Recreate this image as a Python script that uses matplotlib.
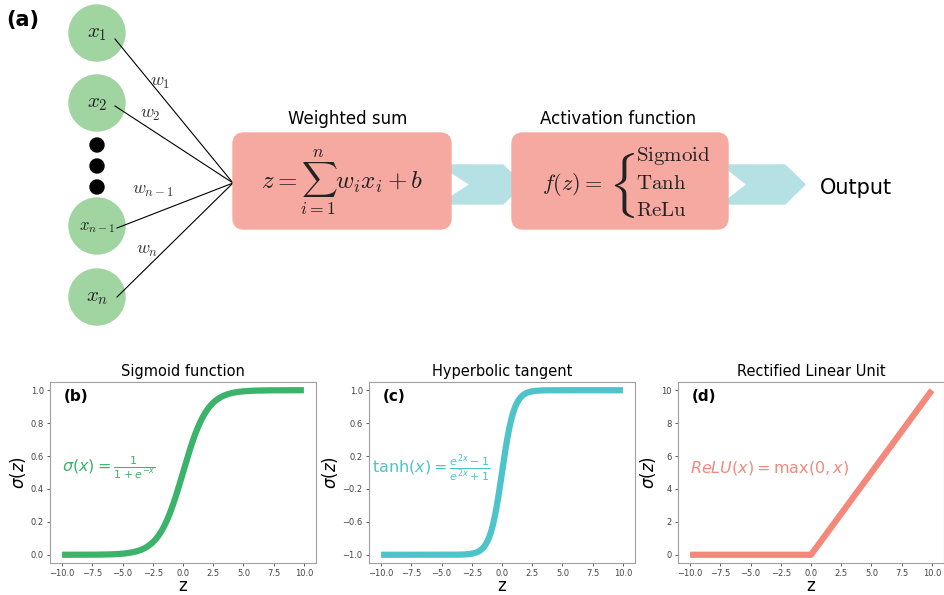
import numpy as np
import matplotlib
matplotlib.use("Agg")
import matplotlib.pyplot as plt
from matplotlib.patches import Circle, FancyBboxPatch, Polygon

# input neurons of the perceptron sketch
node_labels = ["$x_1$", "$x_2$", "$x_{n-1}$", "$x_n$"]
weight_labels = ["$w_1$", "$w_2$", "$w_{n-1}$", "$w_n$"]
activation_names = ["Sigmoid", "Tanh", "ReLu"]

# activation curves, as written on each panel
z = np.linspace(-10, 10, 401)
sigmoid = 1 / (1 + np.exp(-z))
tanh = (np.exp(2 * z) - 1) / (np.exp(2 * z) + 1)
relu = np.maximum(0, z)

panel_titles = ["Sigmoid function", "Hyperbolic tangent", "Rectified Linear Unit"]
panel_tags = ["(b)", "(c)", "(d)"]
panel_formulas = [r"$\sigma(x) = \frac{1}{1+e^{-x}}$",
                  r"$\tanh(x) = \frac{e^{2x}-1}{e^{2x}+1}$",
                  r"$ReLU(x) = \max(0, x)$"]
panel_yticks = [[0.0, 0.2, 0.4, 0.6, 0.8, 1.0],
                [-1.0, -0.6, -0.2, 0.2, 0.6, 1.0],
                [0, 2, 4, 6, 8, 10]]
x_ticks = [-10.0, -7.5, -5.0, -2.5, 0.0, 2.5, 5.0, 7.5, 10.0]
curves = [sigmoid, tanh, relu]
colors = ["#3cb36b", "#4cc4c9", "#f4887b"]

fig = plt.figure(figsize=(9.45, 5.95), dpi=100)

# ---- top diagram, drawn in pixel-like coordinates ----
diag = fig.add_axes([0, 0, 1, 1])
diag.set_xlim(0, 945)
diag.set_ylim(595, 0)
diag.axis("off")

node_green = "#a0d4a1"
box_red = "#f5a9a0"
arrow_blue = "#b6e1e4"

node_y = [33, 103, 226, 297]
hub = (233, 183)
line_start = [(115, 39), (115, 106), (117, 228), (117, 297)]
for (sx, sy) in line_start:
    diag.plot([sx, hub[0]], [sy, hub[1]], color="black", lw=0.8, zorder=2)

for y, lab in zip(node_y, node_labels):
    diag.add_patch(Circle((97, y), 28, color=node_green, zorder=1))
    fs = 12 if "n-1" in lab else 15
    diag.text(97, y, lab, ha="center", va="center", fontsize=fs,
              math_fontfamily="cm", color="#222222", zorder=3)

for y in [145, 166, 187]:
    diag.add_patch(Circle((97, y), 7, color="black", zorder=3))

w_pos = [(160, 82), (150, 114), (153, 190), (147, 250)]
for (wx, wy), lab in zip(w_pos, weight_labels):
    diag.text(wx, wy, lab, ha="center", va="center", fontsize=13,
              math_fontfamily="cm", color="#333333")

diag.text(6, 20, "(a)", fontsize=15, fontweight="bold", va="center", ha="left")


def chevron(x0, x_top, x_tip, top, bot, notch):
    mid = (top + bot) / 2
    pts = [(x0, top), (x_top, top), (x_tip, mid), (x_top, bot), (x0, bot), (x0 + notch, mid)]
    diag.add_patch(Polygon(pts, closed=True, color=arrow_blue, zorder=1))


chevron(440, 503, 523, 165, 204, 30)
chevron(722, 785, 805, 165, 204, 25)

for x0, x1 in [(233, 451), (512, 728)]:
    diag.add_patch(FancyBboxPatch((x0, 133), x1 - x0, 96,
                                  boxstyle="round,pad=0,rounding_size=11",
                                  color=box_red, zorder=2))

diag.text(348, 119, "Weighted sum", ha="center", va="center", fontsize=12)
diag.text(618, 119, "Activation function", ha="center", va="center", fontsize=12)

diag.text(342, 183, r"$z = \sum_{i=1}^{n} w_i x_i + b$", ha="center", va="center",
          fontsize=18, math_fontfamily="cm", color="#222222", zorder=3)
diag.text(542, 184, r"$f(z) =$", ha="left", va="center", fontsize=16,
          math_fontfamily="cm", color="#222222", zorder=3)
diag.text(621, 185, r"$\{$", ha="center", va="center", fontsize=38,
          math_fontfamily="cm", color="#222222", zorder=3)
for yy, name in zip([156, 183, 210], activation_names):
    diag.text(636, yy, r"$\mathrm{" + name + "}$", ha="left", va="center", fontsize=15,
              math_fontfamily="cm", color="#222222", zorder=3)

diag.text(820, 188, "Output", ha="left", va="center", fontsize=15)

# ---- bottom activation panels ----
lefts = [50, 369, 678]
for i in range(3):
    ax = fig.add_axes([lefts[i] / 945, 1 - 563 / 595, 266 / 945, 181 / 595])
    ax.plot(z, curves[i], color=colors[i], lw=4.5, solid_capstyle="butt")
    ax.set_xticks(x_ticks)
    ax.set_yticks(panel_yticks[i])
    ax.tick_params(labelsize=6, length=2.5, width=0.6, colors="#444444", pad=2)
    for sp in ax.spines.values():
        sp.set_color("#a0a0a0")
        sp.set_linewidth(0.8)
    ax.set_title(panel_titles[i], fontsize=10.5, pad=4)
    ax.set_xlabel("z", fontsize=12, labelpad=-1)
    ax.set_ylabel(r"$\sigma(z)$", fontsize=12, labelpad=2)
    ax.text(0.05, 0.92, panel_tags[i], transform=ax.transAxes, fontsize=11,
            fontweight="bold", va="center", ha="left")
    fx = 0.01 if i == 1 else 0.045
    ax.text(fx, 0.525, panel_formulas[i], transform=ax.transAxes, fontsize=11.5,
            color=colors[i], va="center", ha="left")

fig.savefig("out.png", dpi=100)
